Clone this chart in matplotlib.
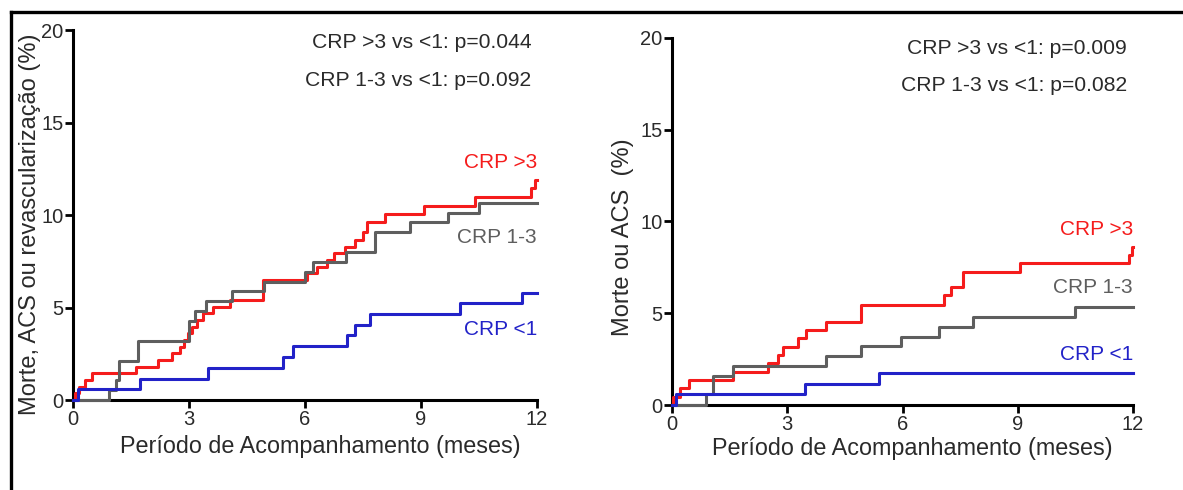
import matplotlib
matplotlib.use("Agg")
import matplotlib.pyplot as plt
from matplotlib.lines import Line2D

plt.rcParams['font.family'] = ['Liberation Sans', 'DejaVu Sans']

# ---- dados (meses, % acumulado) ----
# painel esquerdo: morte, ACS ou revascularização
l_low_t = [0, 0.13, 1.73, 3.5, 5.44, 5.7, 7.08, 7.3, 7.69, 10.0, 11.6, 12]
l_low_v = [0, 0.58, 1.16, 1.74, 2.33, 2.91, 3.49, 4.07, 4.65, 5.23, 5.81, 5.81]

l_mid_t = [0, 0.93, 1.1, 1.2, 1.68, 3.0, 3.15, 3.45, 4.1, 4.95, 6.0, 6.2, 7.05, 7.82, 8.72, 9.7, 10.5, 12]
l_mid_v = [0, 0.54, 1.07, 2.13, 3.2, 4.27, 4.8, 5.33, 5.87, 6.4, 6.93, 7.47, 8.0, 9.07, 9.6, 10.13, 10.67, 10.67]

l_high_t = [0, 0.05, 0.15, 0.3, 0.5, 1.64, 2.2, 2.55, 2.76, 2.88, 2.98, 3.08, 3.2, 3.37, 3.63, 4.06, 4.92,
            6.05, 6.3, 6.56, 6.74, 7.04, 7.3, 7.5, 7.6, 8.07, 9.07, 10.4, 11.85, 11.95, 12]
l_high_v = [0, 0.36, 0.72, 1.08, 1.44, 1.8, 2.16, 2.52, 2.88, 3.24, 3.6, 3.96, 4.32, 4.68, 5.04, 5.4, 6.48,
            6.84, 7.2, 7.56, 7.92, 8.28, 8.64, 9.1, 9.6, 10.05, 10.5, 10.95, 11.45, 11.9, 11.9]

# painel direito: morte ou ACS
r_low_t = [0, 0.1, 3.46, 5.4, 12]
r_low_v = [0, 0.58, 1.15, 1.73, 1.73]

r_mid_t = [0, 0.89, 1.06, 1.58, 4.0, 4.92, 5.96, 6.96, 7.83, 10.5, 12]
r_mid_v = [0, 0.58, 1.6, 2.13, 2.67, 3.2, 3.73, 4.27, 4.82, 5.36, 5.36]

r_high_t = [0, 0.03, 0.2, 0.45, 1.58, 2.49, 2.75, 2.88, 3.27, 3.49, 4.0, 4.92, 7.09, 7.27, 7.57, 9.05, 11.9, 11.97, 12]
r_high_v = [0, 0.45, 0.9, 1.36, 1.81, 2.27, 2.72, 3.18, 3.63, 4.09, 4.54, 5.45, 6.0, 6.42, 7.27, 7.73, 8.18, 8.63, 8.63]

left_pvals = ["CRP >3 vs <1: p=0.044", "CRP 1-3 vs <1: p=0.092"]
right_pvals = ["CRP >3 vs <1: p=0.009", "CRP 1-3 vs <1: p=0.082"]
group_names = ["CRP >3", "CRP 1-3", "CRP <1"]
xticks = [0, 3, 6, 9, 12]
yticks = [0, 5, 10, 15, 20]

RED = '#f51c1c'
GRAY = '#5e5e5e'
BLUE = '#2222c8'
TXT = '#2a2a2a'

W, H = 1183, 490
fig = plt.figure(figsize=(W / 100, H / 100), dpi=100)

# moldura (só topo e esquerda visíveis)
fig.add_artist(Line2D([11 / W, 1], [1 - 12 / H, 1 - 12 / H], color='black', lw=2.4))
fig.add_artist(Line2D([11 / W, 11 / W], [0, 1 - 12 / H], color='black', lw=2.4))


def painel(rect, series, pvals, pval_y, lab_y):
    ax = fig.add_axes(rect)
    colors = [RED, GRAY, BLUE]
    for (t, v), c in zip(series, colors):
        ax.step(t, v, where='post', color=c, lw=2.2, clip_on=False, zorder=3)
    ax.set_xlim(0, 12)
    ax.set_ylim(0, 20)
    ax.set_xticks(xticks)
    ax.set_yticks(yticks)
    for s in ['top', 'right']:
        ax.spines[s].set_visible(False)
    for s in ['left', 'bottom']:
        ax.spines[s].set_linewidth(2.2)
        ax.spines[s].set_color('black')
    ax.tick_params(axis='both', direction='out', length=6, width=2, labelsize=14.5,
                   labelcolor=TXT, pad=1)
    ax.patch.set_alpha(0)
    for txt, y in zip(pvals, pval_y):
        ax.text(11.85, y, txt, ha='right', va='center', fontsize=15.2, color=TXT)
    for name, y, c in zip(group_names, lab_y, colors):
        ax.text(12, y, name, ha='right', va='center', fontsize=15, color=c)
    return ax


axl = painel([73 / W, 1 - 400 / H, 464 / W, 370 / H],
             [(l_high_t, l_high_v), (l_mid_t, l_mid_v), (l_low_t, l_low_v)],
             left_pvals, [19.3, 17.25], [12.85, 8.8, 3.8])
axr = painel([672 / W, 1 - 405 / H, 461 / W, 367 / H],
             [(r_high_t, r_high_v), (r_mid_t, r_mid_v), (r_low_t, r_low_v)],
             right_pvals, [19.45, 17.4], [9.55, 6.4, 2.75])

fig.text(320 / W, 1 - 447 / H, "Período de Acompanhamento (meses)", ha='center', va='center',
         fontsize=16.8, color=TXT)
fig.text(912 / W, 1 - 448 / H, "Período de Acompanhamento (meses)", ha='center', va='center',
         fontsize=16.8, color=TXT)
fig.text(30 / W, 1 - 224 / H, "Morte, ACS ou revascularização (%)", ha='center', va='center',
         rotation=90, fontsize=17, color=TXT)
fig.text(623 / W, 1 - 237 / H, "Morte ou ACS  (%)", ha='center', va='center',
         rotation=90, fontsize=17, color=TXT)

fig.savefig('out.png', dpi=100)
